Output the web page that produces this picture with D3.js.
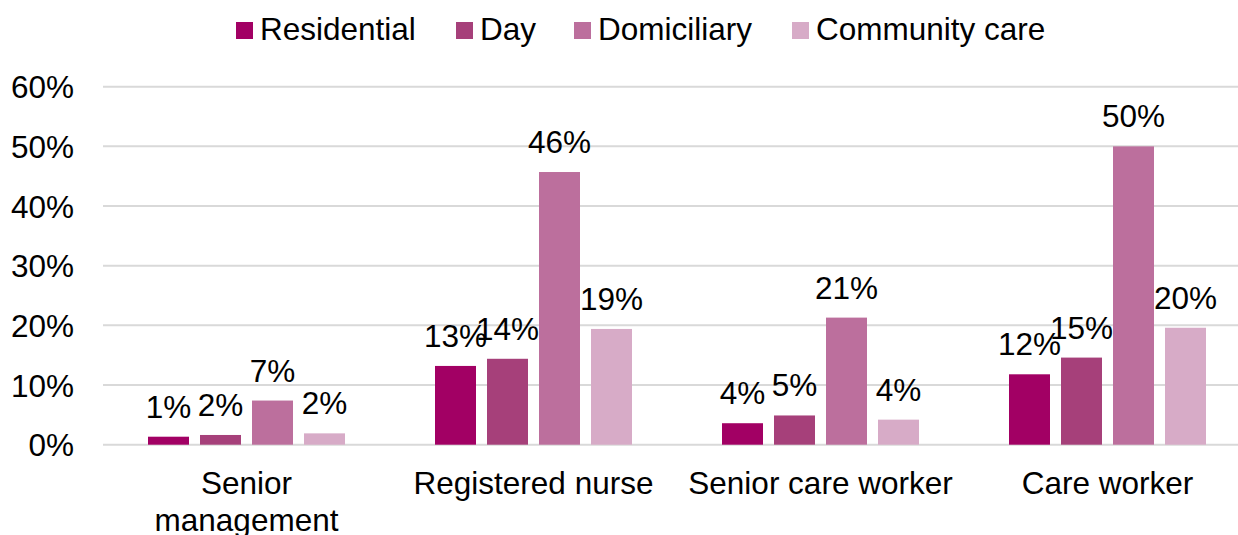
<!DOCTYPE html>
<html><head><meta charset="utf-8">
<script src="https://cdn.jsdelivr.net/npm/d3@7"></script>
<style>body{margin:0;background:#fff}svg{display:block}text{font-family:"Liberation Sans",Arial,sans-serif;fill:#000}</style>
</head><body><svg id="c" width="1238" height="535"></svg>
<script>
const categories = ["Senior management", "Registered nurse", "Senior care worker", "Care worker"];
const series = ["Residential", "Day", "Domiciliary", "Community care"];
const residential = [0.0134, 0.132, 0.036, 0.118];
const day = [0.0163, 0.144, 0.049, 0.146];
const domiciliary = [0.074, 0.457, 0.213, 0.500];
const community = [0.019, 0.194, 0.042, 0.196];
const colors = ["#A20064", "#A6407A", "#BC6F9D", "#D7ABC7"];
const yTicks = [0, 0.1, 0.2, 0.3, 0.4, 0.5, 0.6];

const values = [residential, day, domiciliary, community];
const svg = d3.select("#c");
const fs = 31.5;

const x0 = d3.scaleBand().domain(categories).range([103, 1251]).padding(0);
const x1 = d3.scaleBand().domain(series).range([45, 242]).paddingInner(11/52).paddingOuter(0);
const y = d3.scaleLinear().domain([0, 0.6]).range([444.7, 86.7]);

// gridlines
svg.append("g").selectAll("line").data(yTicks).join("line")
  .attr("x1", 103).attr("x2", 1238)
  .attr("y1", d => y(d)).attr("y2", d => y(d))
  .attr("stroke", "#d9d9d9").attr("stroke-width", 2);

// y axis labels
const yAxis = d3.axisLeft(y).tickValues(yTicks).tickFormat(d3.format(".0%")).tickSize(0).tickPadding(0);
const ya = svg.append("g").attr("transform", "translate(74,0)").call(yAxis);
ya.select(".domain").remove();
ya.selectAll("text").attr("font-size", fs).attr("font-family", "Liberation Sans, Arial, sans-serif").attr("fill", "#000").attr("dy", "0.35em");

// bars
const rows = [];
categories.forEach((c, i) => series.forEach((s, j) => rows.push({c, s, j, v: values[j][i]})));
const g = svg.append("g");
g.selectAll("rect").data(rows).join("rect")
  .attr("x", d => x0(d.c) + x1(d.s))
  .attr("width", x1.bandwidth())
  .attr("y", d => y(d.v))
  .attr("height", d => y(0) - y(d.v))
  .attr("fill", d => colors[d.j]);
g.selectAll("text").data(rows).join("text")
  .attr("x", d => x0(d.c) + x1(d.s) + x1.bandwidth()/2)
  .attr("y", d => y(d.v) - 19)
  .attr("text-anchor", "middle").attr("font-size", fs)
  .text(d => d3.format(".0%")(d.v));

// x labels
const xl = svg.append("g");
const wrapped = {"Senior management": ["Senior", "management"]};
categories.forEach(c => {
  const lines = wrapped[c] || [c];
  const t = xl.append("text").attr("text-anchor", "middle").attr("font-size", fs)
    .attr("x", x0(c) + x0.bandwidth()/2).attr("y", 494);
  lines.forEach((l, k) => t.append("tspan").attr("x", x0(c) + x0.bandwidth()/2).attr("dy", k ? 37 : 0).text(l));
});

// legend
const legX = [236, 456, 574, 792];
const lg = svg.append("g");
series.forEach((s, j) => {
  lg.append("rect").attr("x", legX[j]).attr("y", 22).attr("width", 17).attr("height", 17).attr("fill", colors[j]);
  lg.append("text").attr("x", legX[j] + 24).attr("y", 40).attr("font-size", fs).text(s);
});
</script></body></html>
